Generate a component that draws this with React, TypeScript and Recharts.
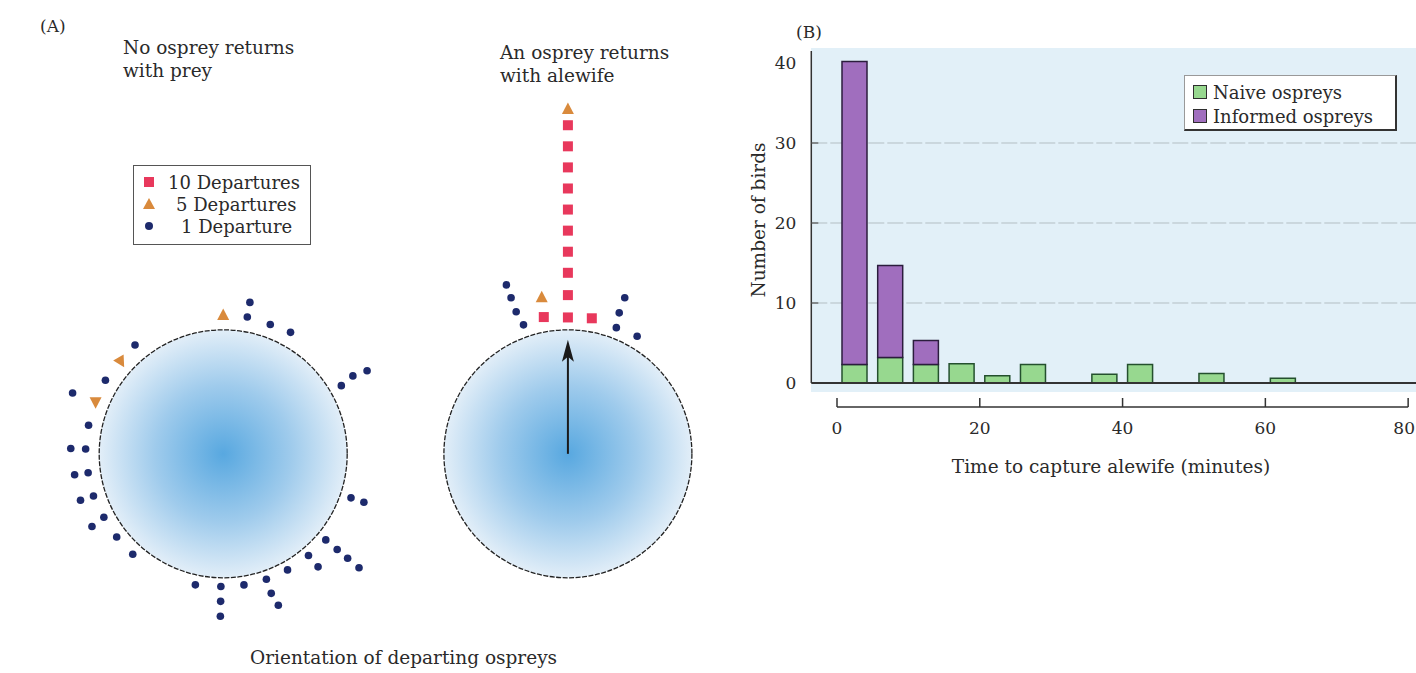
import React from 'react'
import {
  ScatterChart, Scatter, XAxis, YAxis, Legend,
  BarChart, Bar, CartesianGrid, ReferenceLine,
} from 'recharts'

// (A) departures around each lake: [bearing in degrees clockwise from north, distance in lake radii, marker turn]
const lakeNames = ['No osprey returns with prey', 'An osprey returns with alewife']
const lakeCentres = [0, 2.78]
const meanVector = [0, 0.92]

const noReturnSquares: number[][] = []
const noReturnTriangles = [[0, 1.12, 0], [312, 1.11, 150], [292, 1.11, 180]]
const noReturnDots = [
  [10, 1.24], [10, 1.12], [20, 1.11], [29, 1.12],
  [321, 1.13], [302, 1.12], [292, 1.31], [282, 1.11], [272, 1.23], [272, 1.11],
  [262, 1.21], [262, 1.1], [252, 1.21], [252, 1.1], [241, 1.21], [242, 1.09],
  [232, 1.09], [222, 1.09],
  [192, 1.08], [181, 1.07], [181, 1.19], [181, 1.31], [171, 1.07], [161, 1.07],
  [161, 1.19], [160, 1.3], [151, 1.07], [140, 1.07], [140, 1.19],
  [130, 1.08], [130, 1.2], [130, 1.31], [130, 1.43],
  [109, 1.09], [109, 1.2], [60, 1.1], [59, 1.22], [60, 1.34],
]

const returnSquares = [
  [0, 1.1], [0, 1.28], [0, 1.46], [0, 1.63], [0, 1.8], [0, 1.97], [0, 2.14],
  [0, 2.31], [0, 2.48], [0, 2.65], [350, 1.12], [10, 1.11],
]
const returnTriangles = [[0, 2.78, 0], [350.5, 1.28, 0]]
const returnDots = [
  [340, 1.45], [340, 1.34], [340, 1.22], [341, 1.1],
  [20, 1.34], [20, 1.21], [21, 1.09], [30.5, 1.1],
]

const departureNames = ['10 Departures', '5 Departures', '1 Departure']

// (B) time to capture alewife, 5-minute bins
const binMid = [2.5, 7.5, 12.5, 17.5, 22.5, 27.5, 32.5, 37.5, 42.5, 47.5, 52.5, 57.5, 62.5]
const naive = [2.3, 3.2, 2.3, 2.4, 0.9, 2.3, 0, 1.1, 2.3, 0, 1.2, 0, 0.6]
const informed = [37.9, 11.5, 3.0, 0, 0, 0, 0, 0, 0, 0, 0, 0, 0]
const ospreyNames = ['Naive ospreys', 'Informed ospreys']
const xTicks = [0, 20, 40, 60, 80]
const yTicks = [0, 10, 20, 30, 40]

const UNIT = 124 // px per lake radius
const FONT = '"DejaVu Serif", serif'
const INK = '#2a2a2a'
const RED = '#e8385c'
const ORANGE = '#d98a3c'
const NAVY = '#1d2a6c'
const GREEN = '#97d88f'
const PURPLE = '#a06ebe'

const toPoints = (lake: number, list: number[][]) =>
  list.map(([b, d, rot]) => ({
    x: lakeCentres[lake] + d * Math.sin((b * Math.PI) / 180),
    y: d * Math.cos((b * Math.PI) / 180),
    rot: rot || 0,
  }))

const lakes = lakeNames.map((name, i) => ({ name, x: lakeCentres[i], y: 0, arrow: meanVector[i] }))
const squares = [...toPoints(0, noReturnSquares), ...toPoints(1, returnSquares)]
const triangles = [...toPoints(0, noReturnTriangles), ...toPoints(1, returnTriangles)]
const dots = [...toPoints(0, noReturnDots), ...toPoints(1, returnDots)]

const captureData = binMid.map((bin, i) => ({ bin, naive: naive[i], informed: informed[i] }))

const LakeShape = (p: any) => {
  const { cx, cy, payload } = p
  const len = (payload.arrow || 0) * UNIT
  return (
    <g>
      <circle cx={cx} cy={cy} r={UNIT} fill="url(#lakeFill)" stroke="#222" strokeWidth={1.3} strokeDasharray="5 1.5" />
      {len > 0 && (
        <g>
          <line x1={cx} y1={cy} x2={cx} y2={cy - len + 16} stroke="#1a1a1a" strokeWidth={2} />
          <polygon
            points={`${cx},${cy - len} ${cx + 6},${cy - len + 22} ${cx},${cy - len + 17} ${cx - 6},${cy - len + 22}`}
            fill="#1a1a1a"
          />
        </g>
      )}
    </g>
  )
}

const SquareShape = (p: any) => <rect x={p.cx - 5} y={p.cy - 5} width={10} height={10} fill={RED} />
const TriangleShape = (p: any) => (
  <polygon points="0,-6.5 6,5 -6,5" fill={ORANGE} transform={`translate(${p.cx},${p.cy}) rotate(${p.payload.rot})`} />
)
const DotShape = (p: any) => <circle cx={p.cx} cy={p.cy} r={3.8} fill={NAVY} />

const markerFor = (name: string) => {
  if (name === departureNames[0]) return <rect x={1} y={1} width={10} height={10} fill={RED} />
  if (name === departureNames[1]) return <polygon points="6,0 12,11 0,11" fill={ORANGE} />
  return <circle cx={6} cy={6} r={4} fill={NAVY} />
}

const byOrder = (names: string[]) => (a: any, b: any) => names.indexOf(a.value) - names.indexOf(b.value)

const DepartureLegend = ({ payload }: any) => {
  const items = (payload || []).filter((p: any) => departureNames.includes(p.value)).sort(byOrder(departureNames))
  const indent = [0, 8, 13]
  return (
    <div style={{ width: 178, height: 80, boxSizing: 'border-box', border: '1px solid #555', background: '#fff', padding: '5px 0 0 9px', fontFamily: FONT, fontSize: 18, color: INK }}>
      {items.map((it: any, i: number) => (
        <div key={it.value} style={{ display: 'flex', alignItems: 'center', height: 22, whiteSpace: 'nowrap' }}>
          <svg width={12} height={12} style={{ marginRight: 13 + indent[i] }}>{markerFor(it.value)}</svg>
          <span>{it.value}</span>
        </div>
      ))}
    </div>
  )
}

const OspreyLegend = ({ payload }: any) => (
  <div style={{ width: 213, height: 56, boxSizing: 'border-box', borderTop: '1px solid #999', borderLeft: '1px solid #999', borderRight: '2px solid #333', borderBottom: '2px solid #333', background: '#fff', padding: '4px 0 0 8px', fontFamily: FONT, fontSize: 18, color: INK }}>
    {[...(payload || [])].sort(byOrder(ospreyNames)).map((it: any) => (
      <div key={it.value} style={{ display: 'flex', alignItems: 'center', height: 24, whiteSpace: 'nowrap' }}>
        <span style={{ width: 12, height: 12, background: it.color, border: '1.5px solid #2e2e2e', marginRight: 6, display: 'inline-block' }} />
        <span>{it.value}</span>
      </div>
    ))}
  </div>
)

const XTick = (p: any) => (
  <g>
    <line x1={p.x} y1={p.y} x2={p.x} y2={p.y - 9} stroke="#333" strokeWidth={1.5} />
    <text x={p.payload.value === 80 ? p.x - 4 : p.x} y={p.y + 27} textAnchor="middle" fontFamily={FONT} fontSize={17} fill={INK}>{p.payload.value}</text>
  </g>
)

const YTick = (p: any) => (
  <g>
    {p.payload.value > 0 && p.payload.value < 40 && (
      <line x1={p.x} y1={p.y} x2={p.x + 7} y2={p.y} stroke="#555" strokeWidth={1.2} />
    )}
    <text x={p.x - 15} y={p.y + 6} textAnchor="end" fontFamily={FONT} fontSize={17} fill={INK}>{p.payload.value}</text>
  </g>
)

const txt = (s: React.CSSProperties): React.CSSProperties => ({
  position: 'absolute', fontFamily: FONT, fontSize: 18.5, lineHeight: '23px', color: INK, whiteSpace: 'nowrap', ...s,
})

export default function App() {
  return (
    <div style={{ position: 'absolute', left: 0, top: 0, width: 1416, height: 673, background: '#fff', overflow: 'hidden' }}>
      {/* blue plot background of panel B */}
      <div style={{ position: 'absolute', left: 811, top: 48, width: 605, height: 344, background: '#e2f0f8' }} />

      <div style={txt({ left: 40, top: 15, fontSize: 17 })}>(A)</div>
      <div style={txt({ left: 123, top: 36 })}>No osprey returns<br />with prey</div>
      <div style={txt({ left: 500, top: 41 })}>An osprey returns<br />with alewife</div>
      <div style={txt({ left: 250, top: 646 })}>Orientation of departing ospreys</div>

      <div style={{ position: 'absolute', left: 0, top: 0 }}>
        <ScatterChart width={5.8 * UNIT} height={5.43 * UNIT} margin={{ top: 0, right: 0, bottom: 0, left: 0 }}>
          <defs>
            <radialGradient id="lakeFill" cx="50%" cy="50%" r="50%">
              <stop offset="0%" stopColor="#58a8e0" />
              <stop offset="55%" stopColor="#9fcbec" />
              <stop offset="100%" stopColor="#e2eef8" />
            </radialGradient>
          </defs>
          <XAxis type="number" dataKey="x" domain={[-1.8, 4.0]} allowDataOverflow hide />
          <YAxis type="number" dataKey="y" domain={[-1.77, 3.66]} allowDataOverflow hide />
          <Scatter name="lakes" data={lakes} shape={LakeShape} isAnimationActive={false} legendType="none" />
          <Scatter name={departureNames[0]} data={squares} shape={SquareShape} fill={RED} isAnimationActive={false} />
          <Scatter name={departureNames[1]} data={triangles} shape={TriangleShape} fill={ORANGE} isAnimationActive={false} />
          <Scatter name={departureNames[2]} data={dots} shape={DotShape} fill={NAVY} isAnimationActive={false} />
          <Legend layout="horizontal" verticalAlign="middle" align="center" content={DepartureLegend} wrapperStyle={{ left: 133, top: 165, width: 178 }} />
        </ScatterChart>
      </div>

      <div style={txt({ left: 796, top: 21, fontSize: 17 })}>(B)</div>
      <div style={txt({ left: 758, top: 220, transform: 'translate(-50%, -50%) rotate(-90deg)' })}>Number of birds</div>
      <div style={txt({ left: 1111, top: 455, transform: 'translateX(-50%)' })}>Time to capture alewife (minutes)</div>

      <div style={{ position: 'absolute', left: 730, top: 0 }}>
        <BarChart width={686} height={480} data={captureData} margin={{ top: 51, right: 0, bottom: 13, left: 0 }}>
          <CartesianGrid vertical={false} horizontalValues={[10, 20, 30]} stroke="#b3bec3" strokeDasharray="16 3" />
          <XAxis
            type="number" dataKey="bin" domain={[-3.6, 81.1]} allowDataOverflow ticks={xTicks} interval={0}
            height={60} tickSize={0} tickMargin={0} tickLine={false} axisLine={false} tick={XTick}
          />
          <YAxis
            type="number" domain={[-3, 41.5]} allowDataOverflow ticks={yTicks} interval={0}
            width={81.3} tickSize={0} tickMargin={0} tickLine={false} axisLine={false} tick={YTick}
          />
          <ReferenceLine segment={[{ x: -3.6, y: 0 }, { x: -3.6, y: 41.5 }]} stroke="#333" strokeWidth={1.5} ifOverflow="visible" />
          <ReferenceLine segment={[{ x: 0, y: -3 }, { x: 80, y: -3 }]} stroke="#333" strokeWidth={1.5} ifOverflow="visible" />
          <Bar dataKey="naive" name={ospreyNames[0]} stackId="a" barSize={25} fill={GREEN} stroke="#24502e" strokeWidth={1.5} isAnimationActive={false} />
          <Bar dataKey="informed" name={ospreyNames[1]} stackId="a" barSize={25} fill={PURPLE} stroke="#2b1d3d" strokeWidth={1.5} isAnimationActive={false} />
          <ReferenceLine y={0} stroke="#333" strokeWidth={2} ifOverflow="visible" />
          <Legend layout="horizontal" verticalAlign="middle" align="center" content={OspreyLegend} wrapperStyle={{ left: 454, top: 75, width: 213 }} />
        </BarChart>
      </div>
    </div>
  )
}
